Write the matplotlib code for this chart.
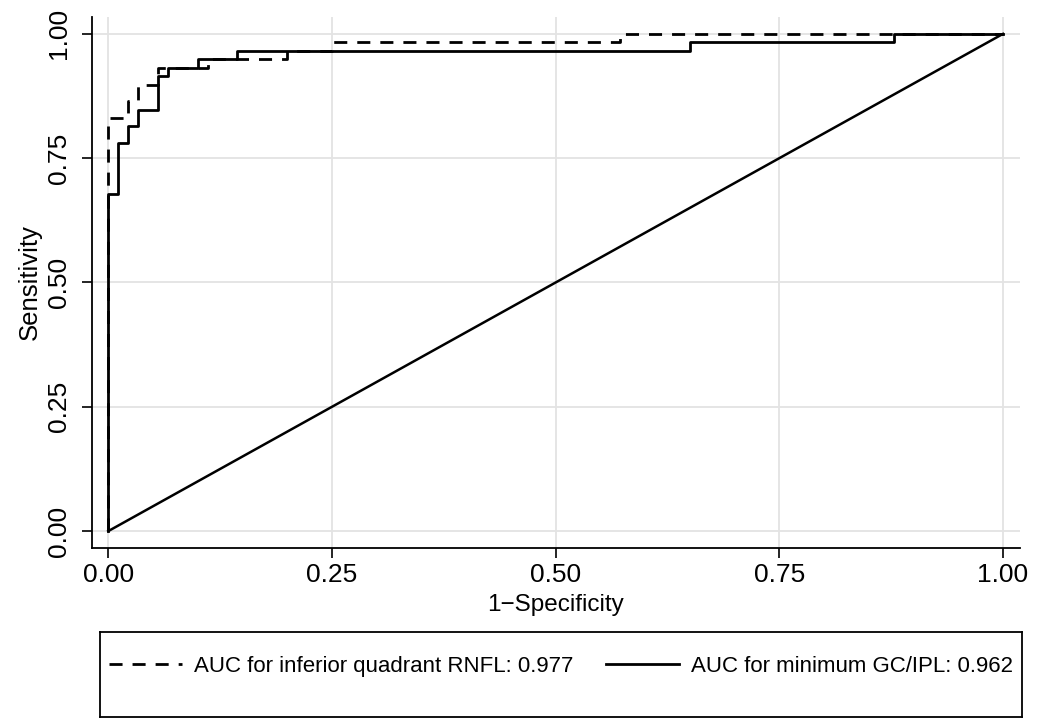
import matplotlib
matplotlib.use("Agg")
import matplotlib.pyplot as plt
from matplotlib.lines import Line2D

plt.rcParams['font.family'] = ['Liberation Sans', 'DejaVu Sans']

# ROC corner points
rnfl_fpr = [0, 0, 0.022, 0.022, 0.033, 0.033, 0.056, 0.056, 0.111, 0.111,
            0.200, 0.200, 0.250, 0.250, 0.572, 0.572, 1.0]
rnfl_tpr = [0, 0.831, 0.831, 0.864, 0.864, 0.898, 0.898, 0.932, 0.932, 0.949,
            0.949, 0.966, 0.966, 0.983, 0.983, 1.0, 1.0]

gcipl_fpr = [0, 0, 0.011, 0.011, 0.022, 0.022, 0.033, 0.033, 0.056, 0.056,
             0.067, 0.067, 0.100, 0.100, 0.144, 0.144, 0.650, 0.650, 0.878, 0.878, 1.0]
gcipl_tpr = [0, 0.678, 0.678, 0.780, 0.780, 0.814, 0.814, 0.847, 0.847, 0.915,
             0.915, 0.932, 0.932, 0.949, 0.949, 0.966, 0.966, 0.983, 0.983, 1.0, 1.0]

ref_x = [0, 1]
ref_y = [0, 1]

ticks = [0, 0.25, 0.5, 0.75, 1.0]
tick_labels = ["0.00", "0.25", "0.50", "0.75", "1.00"]
rnfl_label = "AUC for inferior quadrant RNFL: 0.977"
gcipl_label = "AUC for minimum GC/IPL: 0.962"

fig = plt.figure(figsize=(10.37, 7.19), dpi=100)
ax = fig.add_axes([0.0887, 0.2378, 0.8949, 0.7386])

dash = (0, (4.7, 3.6))
lw = 2.0
ax.plot(rnfl_fpr, rnfl_tpr, color='black', lw=lw, linestyle=dash, zorder=3)
ax.plot(gcipl_fpr, gcipl_tpr, color='black', lw=lw, zorder=4)
ax.plot(ref_x, ref_y, color='black', lw=1.8, zorder=3)

ax.set_xlim(-0.0182, 1.019)
ax.set_ylim(-0.034, 1.034)
ax.set_xticks(ticks)
ax.set_xticklabels(tick_labels)
ax.set_yticks(ticks)
ax.set_yticklabels(tick_labels, rotation=90, va='center')
ax.tick_params(labelsize=19, length=7, width=1.2, color='black')
ax.tick_params(axis='x', pad=4)
ax.tick_params(axis='y', pad=8)
ax.grid(True, color='#e3e3e3', lw=1.3)
ax.set_axisbelow(True)
for s in ['top', 'right']:
    ax.spines[s].set_visible(False)
for s in ['left', 'bottom']:
    ax.spines[s].set_linewidth(1.3)

ax.set_xlabel("1\u2212Specificity", fontsize=17.5, labelpad=5)
ax.set_ylabel("Sensitivity", fontsize=18.5, labelpad=4)

# legend box below the plot
lax = fig.add_axes([0.0964, 0.003, 0.889, 0.118])
lax.set_xticks([])
lax.set_yticks([])
for s in lax.spines.values():
    s.set_linewidth(1.3)
handles = [Line2D([], [], color='black', lw=lw, linestyle=dash),
           Line2D([], [], color='black', lw=lw)]
lax.legend(handles, [rnfl_label, gcipl_label], ncol=2, loc='upper center',
           bbox_to_anchor=(0.5, 0.72), frameon=False, fontsize=16,
           handlelength=3.3, columnspacing=1.45, handletextpad=0.55,
           borderaxespad=0, borderpad=0)

fig.savefig("out.png", dpi=100)
